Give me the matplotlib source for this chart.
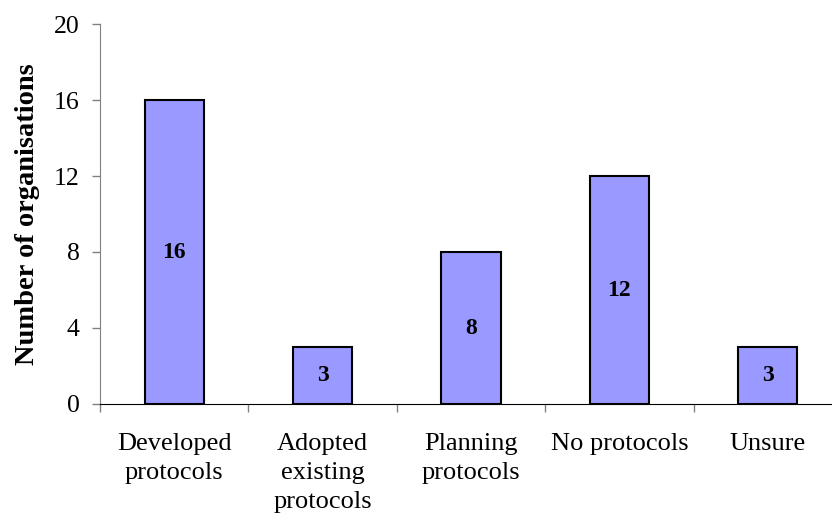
import matplotlib.pyplot as plt
import numpy as np

categories = ['Developed\nprotocols', 'Adopted\nexisting\nprotocols',
              'Planning\nprotocols', 'No protocols', 'Unsure']
counts = [16, 3, 8, 12, 3]
y_ticks = [0, 4, 8, 12, 16, 20]

plt.rcParams['font.family'] = 'Liberation Serif'

fig = plt.figure(figsize=(8.32, 5.2), dpi=100)
# axes run slightly past the right edge of the figure
ax = fig.add_axes([100 / 832, 116 / 520, 742 / 832, 380 / 520])

pos = np.arange(len(categories))
bars = ax.bar(pos, counts, width=0.4, color='#9999FF', edgecolor='black', linewidth=1.5)

# value labels sit in the middle of each bar
for rect, value in zip(bars, counts):
    ax.text(rect.get_x() + rect.get_width() / 2, value / 2, str(value),
            ha='center', va='center', fontsize=17, fontweight='bold')

ax.set_xlim(-0.5, len(categories) - 0.5)
ax.set_ylim(0, 20)
ax.set_yticks(y_ticks)
ax.tick_params(axis='y', labelsize=18.5, length=5.8, width=1, color='#808080', pad=9)

# category ticks go on the boundaries, labels in between
ax.set_xticks(np.arange(len(categories) + 1) - 0.5)
ax.set_xticklabels([])
ax.set_xticks(pos, minor=True)
ax.set_xticklabels(categories, minor=True, fontsize=19, linespacing=1.4)
ax.tick_params(axis='x', which='major', length=6, width=1, color='#808080')
ax.tick_params(axis='x', which='minor', length=0, pad=21)

ax.spines['top'].set_visible(False)
ax.spines['right'].set_visible(False)
ax.spines['left'].set_color('#808080')
ax.spines['bottom'].set_color('black')

ax.set_ylabel('Number of organisations', fontsize=20.5, fontweight='bold', labelpad=10)

fig.savefig('out.png', dpi=100)
